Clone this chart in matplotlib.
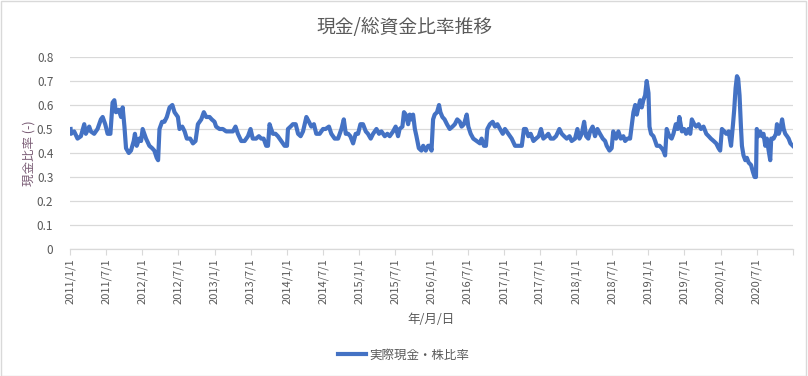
import matplotlib
matplotlib.use("Agg")
import matplotlib.pyplot as plt
import pandas as pd
from matplotlib.patches import Rectangle

plt.rcParams["font.family"] = ["Noto Sans CJK JP", "DejaVu Sans"]

# values, split by period
dates_a = ["2011-01-04", "2011-01-06", "2011-01-22", "2011-02-08", "2011-02-25", "2011-03-14",
           "2011-03-22", "2011-04-08", "2011-04-16", "2011-05-03", "2011-05-20", "2011-06-06",
           "2011-06-15", "2011-06-28", "2011-07-10", "2011-07-24", "2011-08-04", "2011-08-13",
           "2011-08-21", "2011-09-04", "2011-09-16", "2011-09-24", "2011-10-03", "2011-10-11",
           "2011-10-25", "2011-11-05", "2011-11-19", "2011-11-25", "2011-12-04", "2011-12-17",
           "2011-12-26", "2012-01-03", "2012-01-20", "2012-02-06", "2012-02-20", "2012-03-02",
           "2012-03-14", "2012-03-21", "2012-03-28", "2012-04-10", "2012-04-22", "2012-05-04",
           "2012-05-18", "2012-06-01", "2012-06-12", "2012-06-29", "2012-07-07", "2012-07-21",
           "2012-08-02", "2012-08-13", "2012-08-30", "2012-09-13", "2012-09-26", "2012-10-08",
           "2012-10-25", "2012-11-07", "2012-11-19", "2012-12-06", "2012-12-17", "2012-12-31",
           "2013-01-08", "2013-01-25", "2013-02-11", "2013-02-28", "2013-03-17", "2013-04-03",
           "2013-04-16", "2013-04-28", "2013-05-15", "2013-06-01", "2013-06-18", "2013-07-01"]
ratio_a = [0.50, 0.48, 0.49, 0.46, 0.47, 0.52, 0.48, 0.51, 0.49, 0.48, 0.50, 0.54,
           0.55, 0.52, 0.48, 0.48, 0.61, 0.62, 0.57, 0.58, 0.55, 0.59, 0.51, 0.42,
           0.40, 0.41, 0.45, 0.48, 0.43, 0.46, 0.45, 0.50, 0.46, 0.43, 0.42, 0.41,
           0.38, 0.37, 0.50, 0.53, 0.53, 0.55, 0.59, 0.60, 0.57, 0.55, 0.50, 0.51,
           0.49, 0.46, 0.46, 0.44, 0.45, 0.52, 0.54, 0.57, 0.55, 0.55, 0.54, 0.53,
           0.51, 0.50, 0.50, 0.49, 0.49, 0.49, 0.51, 0.48, 0.45, 0.45, 0.47, 0.50]

dates_b = ["2013-07-12", "2013-07-29", "2013-08-12", "2013-08-24", "2013-09-05", "2013-09-18",
           "2013-09-27", "2013-10-05", "2013-10-13", "2013-10-22", "2013-11-04", "2013-11-16",
           "2013-12-03", "2013-12-20", "2014-01-01", "2014-01-06", "2014-01-19", "2014-01-31",
           "2014-02-14", "2014-02-26", "2014-03-11", "2014-03-23", "2014-04-09", "2014-04-22",
           "2014-05-04", "2014-05-17", "2014-05-29", "2014-06-15", "2014-07-02", "2014-07-15",
           "2014-08-01", "2014-08-13", "2014-08-30", "2014-09-16", "2014-10-03", "2014-10-15",
           "2014-10-25", "2014-11-06", "2014-11-17", "2014-12-01", "2014-12-14", "2014-12-26",
           "2015-01-07", "2015-01-20", "2015-02-03", "2015-02-14", "2015-02-28", "2015-03-12",
           "2015-03-29", "2015-04-11", "2015-04-23", "2015-05-10", "2015-05-23", "2015-06-04",
           "2015-06-21", "2015-07-04", "2015-07-16", "2015-07-24", "2015-08-07", "2015-08-15",
           "2015-08-24", "2015-09-05", "2015-09-13", "2015-09-22", "2015-09-30", "2015-10-09",
           "2015-10-17", "2015-10-29", "2015-11-11", "2015-11-20", "2015-12-03", "2015-12-15",
           "2015-12-27"]
ratio_b = [0.46, 0.46, 0.47, 0.46, 0.46, 0.43, 0.43, 0.52, 0.50, 0.48, 0.48, 0.47,
           0.45, 0.43, 0.43, 0.50, 0.51, 0.52, 0.52, 0.48, 0.47, 0.49, 0.55, 0.53,
           0.51, 0.52, 0.48, 0.48, 0.50, 0.50, 0.51, 0.48, 0.46, 0.46, 0.50, 0.54,
           0.48, 0.48, 0.47, 0.44, 0.48, 0.48, 0.52, 0.52, 0.49, 0.48, 0.46, 0.48,
           0.50, 0.48, 0.49, 0.47, 0.48, 0.47, 0.49, 0.51, 0.47, 0.50, 0.51, 0.57,
           0.56, 0.52, 0.56, 0.54, 0.56, 0.50, 0.47, 0.42, 0.41, 0.43, 0.41, 0.43,
           0.43]

dates_c = ["2016-01-01", "2016-01-09", "2016-01-17", "2016-01-29", "2016-02-08", "2016-02-15",
           "2016-02-25", "2016-03-07", "2016-03-19", "2016-04-02", "2016-04-16", "2016-04-28",
           "2016-05-10", "2016-05-23", "2016-06-01", "2016-06-13", "2016-06-27", "2016-07-05",
           "2016-07-17", "2016-07-30", "2016-08-16", "2016-09-02", "2016-09-10", "2016-09-22",
           "2016-10-02", "2016-10-09", "2016-10-22", "2016-11-05", "2016-11-17", "2016-11-29",
           "2016-12-12", "2016-12-26", "2017-01-06", "2017-01-23", "2017-02-09", "2017-02-26",
           "2017-03-15", "2017-04-01", "2017-04-12", "2017-04-22", "2017-05-04", "2017-05-16",
           "2017-05-30", "2017-06-12", "2017-06-26", "2017-07-07", "2017-07-19", "2017-08-02",
           "2017-08-13", "2017-08-25", "2017-09-08", "2017-09-21", "2017-10-08", "2017-10-20",
           "2017-11-01", "2017-11-14", "2017-11-28", "2017-12-09", "2017-12-26", "2018-01-07",
           "2018-01-17", "2018-01-29", "2018-02-10", "2018-02-20", "2018-03-03", "2018-03-12",
           "2018-03-25", "2018-04-06", "2018-04-18", "2018-05-01", "2018-05-15", "2018-05-27",
           "2018-06-04"]
ratio_c = [0.41, 0.54, 0.56, 0.57, 0.60, 0.57, 0.55, 0.54, 0.52, 0.50, 0.51, 0.52,
           0.54, 0.53, 0.51, 0.52, 0.56, 0.51, 0.48, 0.46, 0.45, 0.44, 0.46, 0.43,
           0.43, 0.50, 0.52, 0.53, 0.51, 0.52, 0.50, 0.48, 0.50, 0.48, 0.46, 0.43,
           0.43, 0.43, 0.50, 0.50, 0.47, 0.48, 0.45, 0.46, 0.47, 0.50, 0.46, 0.47,
           0.48, 0.46, 0.46, 0.47, 0.50, 0.48, 0.47, 0.46, 0.47, 0.45, 0.46, 0.50,
           0.46, 0.48, 0.53, 0.47, 0.46, 0.49, 0.51, 0.47, 0.50, 0.48, 0.46, 0.45,
           0.43]

dates_d = ["2018-06-18", "2018-06-29", "2018-07-07", "2018-07-21", "2018-08-02", "2018-08-14",
           "2018-08-27", "2018-09-05", "2018-09-17", "2018-09-30", "2018-10-09", "2018-10-17",
           "2018-10-26", "2018-11-03", "2018-11-11", "2018-11-20", "2018-11-28", "2018-12-06",
           "2018-12-15", "2018-12-23", "2019-01-01", "2019-01-06", "2019-01-14", "2019-01-26",
           "2019-02-04", "2019-02-12", "2019-02-26", "2019-03-09", "2019-03-17", "2019-03-26",
           "2019-04-03", "2019-04-16", "2019-04-28", "2019-05-07", "2019-05-19", "2019-05-29",
           "2019-06-06", "2019-06-19", "2019-06-30", "2019-07-10", "2019-07-22", "2019-07-31",
           "2019-08-08", "2019-08-20", "2019-08-30", "2019-09-11", "2019-09-23", "2019-10-06",
           "2019-10-20", "2019-11-01", "2019-11-12", "2019-11-26", "2019-12-09", "2019-12-21",
           "2019-12-29", "2020-01-07", "2020-01-19", "2020-01-29", "2020-02-10", "2020-02-22",
           "2020-03-03", "2020-03-09", "2020-03-16", "2020-03-23", "2020-03-29", "2020-04-05",
           "2020-04-12", "2020-04-17", "2020-04-25", "2020-05-04", "2020-05-12", "2020-05-21",
           "2020-06-02", "2020-06-12", "2020-06-20", "2020-06-27", "2020-07-01", "2020-07-09",
           "2020-07-18", "2020-07-27", "2020-08-04", "2020-08-13", "2020-08-21", "2020-08-30",
           "2020-09-07", "2020-09-12", "2020-09-24", "2020-10-06", "2020-10-11", "2020-10-20",
           "2020-10-28", "2020-11-06", "2020-11-14", "2020-11-22", "2020-12-01", "2020-12-09",
           "2020-12-18", "2020-12-30"]
ratio_d = [0.41, 0.42, 0.49, 0.46, 0.49, 0.46, 0.47, 0.45, 0.46, 0.46, 0.52, 0.57,
           0.60, 0.56, 0.59, 0.62, 0.59, 0.62, 0.64, 0.70, 0.65, 0.51, 0.48, 0.47,
           0.45, 0.43, 0.43, 0.42, 0.41, 0.39, 0.50, 0.47, 0.46, 0.48, 0.52, 0.50,
           0.55, 0.49, 0.50, 0.48, 0.50, 0.48, 0.54, 0.52, 0.51, 0.52, 0.50, 0.51,
           0.48, 0.47, 0.46, 0.45, 0.44, 0.42, 0.41, 0.50, 0.49, 0.48, 0.49, 0.43,
           0.52, 0.58, 0.67, 0.72, 0.71, 0.64, 0.51, 0.43, 0.39, 0.37, 0.38, 0.36,
           0.35, 0.32, 0.30, 0.30, 0.50, 0.47, 0.49, 0.47, 0.48, 0.43, 0.46, 0.41,
           0.37, 0.46, 0.46, 0.48, 0.52, 0.48, 0.50, 0.54, 0.50, 0.48, 0.47, 0.46,
           0.44, 0.43]

title = "現金/総資金比率推移"
series_name = "実際現金・株比率"
y_label = "現金比率 (-)"
x_label = "年/月/日"
y_ticks = [0, 0.1, 0.2, 0.3, 0.4, 0.5, 0.6, 0.7, 0.8]

dates = pd.to_datetime(dates_a + dates_b + dates_c + dates_d)
ratio = ratio_a + ratio_b + ratio_c + ratio_d

grey = "#595959"
grid = "#d9d9d9"

fig = plt.figure(figsize=(8.08, 3.76), dpi=100)
ax = fig.add_axes([70 / 808, 1 - 249 / 376, 723 / 808, 192 / 376])

ax.plot(dates, ratio, color="#4472C4", linewidth=3.0, solid_joinstyle="round",
        label=series_name)

x_start = pd.Timestamp("2011-01-01")
x_end = pd.Timestamp("2020-12-31")
ax.set_xlim(x_start, x_end)
ax.set_ylim(0, 0.8)

tick_dates = list(pd.date_range("2011-01-01", "2020-07-01", freq="6MS"))
tick_labels = [f"{d.year}/{d.month}/{d.day}" for d in tick_dates]
ax.set_xticks(tick_dates + [x_end])
ax.set_xticklabels(tick_labels + [""], rotation=90, fontsize=8, color=grey)
ax.tick_params(axis="x", length=4, width=0.8, color=grid, pad=3)

ax.set_yticks(y_ticks)
ax.set_yticklabels([f"{v:g}" for v in y_ticks], fontsize=8.5, color=grey)
ax.tick_params(axis="y", length=0, pad=12)
ax.yaxis.grid(True, color=grid, linewidth=0.9)
ax.set_axisbelow(True)

for s in ["top", "right", "left"]:
    ax.spines[s].set_visible(False)
ax.spines["bottom"].set_color(grid)
ax.spines["bottom"].set_linewidth(0.9)

ax.set_xlabel(x_label, fontsize=9, color=grey, labelpad=6)
ax.set_ylabel(y_label, fontsize=9, color="#7a5c75", labelpad=1)

fig.text(0.5, 1 - 27 / 376, title, ha="center", va="center", fontsize=13.5, color=grey)

fig.legend(loc="center", bbox_to_anchor=(0.5, 1 - 355 / 376), frameon=False,
           fontsize=9, labelcolor=grey, handlelength=2.2, handletextpad=0.3)

fig.patches.append(Rectangle((0.001, 0.001), 0.997, 0.996, transform=fig.transFigure,
                             fill=False, edgecolor=grid, linewidth=1))

fig.savefig("out.png", dpi=100)
